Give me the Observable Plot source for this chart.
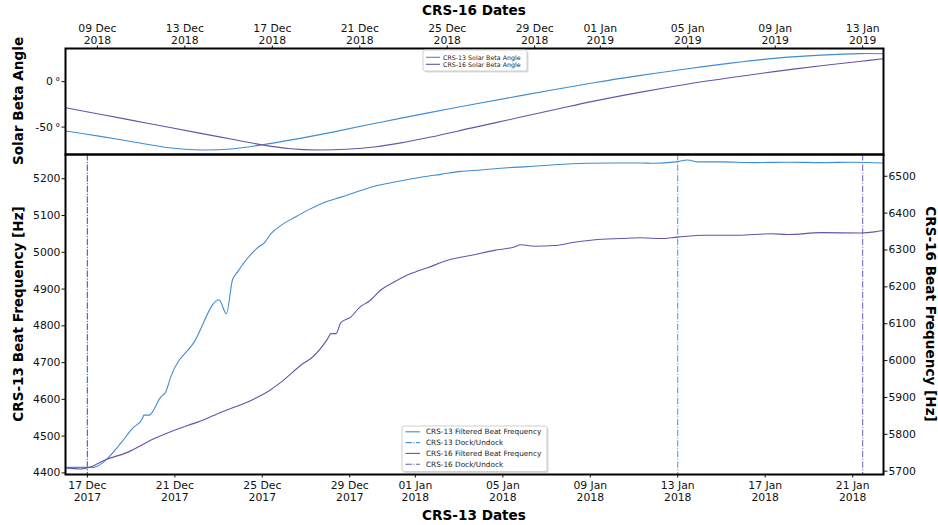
<!DOCTYPE html>
<html>
<head>
<meta charset="utf-8">
<script src="https://cdn.jsdelivr.net/npm/d3@7"></script>
<script src="https://cdn.jsdelivr.net/npm/@observablehq/plot@0.6"></script>
<style>
  html, body { margin: 0; padding: 0; background: #fff; }
  #chart { position: relative; width: 938px; height: 525px; font-family: "DejaVu Sans", sans-serif; }
  #chart svg { position: absolute; left: 0; top: 0; overflow: visible; }
</style>
</head>
<body>
<div id="chart"></div>
<script>
// ---- time windows shown by the two stacked panels (UTC) ----
const crs13Window = ["2017-12-16T00:00", "2018-01-22T09:50"];
const crs16Window = ["2018-12-07T13:00", "2019-01-13T22:50"];

// ---- tick dates ----
const crs13Ticks = ["2017-12-17", "2017-12-21", "2017-12-25", "2017-12-29", "2018-01-01",
                    "2018-01-05", "2018-01-09", "2018-01-13", "2018-01-17", "2018-01-21"];
const crs16Ticks = ["2018-12-09", "2018-12-13", "2018-12-17", "2018-12-21", "2018-12-25",
                    "2018-12-29", "2019-01-01", "2019-01-05", "2019-01-09", "2019-01-13"];
const betaTicks = [0, -50];
const crs13HzTicks = [4400, 4500, 4600, 4700, 4800, 4900, 5000, 5100, 5200];
const crs16HzTicks = [5700, 5800, 5900, 6000, 6100, 6200, 6300, 6400, 6500];

// ---- axis ranges ----
const betaDomain = [-80.2, 36.5];
const crs13HzDomain = [4395.6, 5266];
const crs16HzDomain = [5691, 6559];

// ---- solar beta angle [deg] ----
const crs13Beta = [
  ["2017-12-16T00:15", -54.4], ["2017-12-17T12:30", -60.0], ["2017-12-19T03:00", -66.4],
  ["2017-12-20T17:15", -72.8], ["2017-12-22T04:20", -75.2], ["2017-12-23T13:25", -74.1],
  ["2017-12-24T22:20", -69.8], ["2017-12-26T12:45", -63.3], ["2017-12-28T06:30", -55.3],
  ["2017-12-30T10:00", -44.6], ["2018-01-01T17:00", -33.8], ["2018-01-03T13:00", -25.4],
  ["2018-01-05T19:40", -15.4], ["2018-01-09T03:50", -1.2], ["2018-01-11T07:30", 6.9],
  ["2018-01-13T11:00", 14.2], ["2018-01-15T10:20", 20.4], ["2018-01-17T09:40", 25.6],
  ["2018-01-19T13:00", 29.2], ["2018-01-21T09:00", 30.9], ["2018-01-22T09:50", 30.7]
];
const crs16Beta = [
  ["2018-12-07T13:00", -28.8], ["2018-12-09T01:30", -35.7], ["2018-12-10T15:50", -42.9],
  ["2018-12-12T06:20", -50.2], ["2018-12-13T17:30", -56.9], ["2018-12-15T02:30", -63.1],
  ["2018-12-16T11:15", -69.3], ["2018-12-17T20:10", -73.8], ["2018-12-19T01:55", -75.2],
  ["2018-12-20T08:40", -74.4], ["2018-12-21T17:45", -71.6], ["2018-12-22T21:10", -67.4],
  ["2018-12-24T06:00", -61.0], ["2018-12-26T02:00", -51.2], ["2018-12-28T09:00", -39.0],
  ["2018-12-30T04:50", -29.2], ["2018-12-31T17:00", -21.4], ["2019-01-02T20:40", -11.5],
  ["2019-01-05T00:30", -2.6], ["2019-01-06T23:45", 4.5], ["2019-01-08T22:50", 11.0],
  ["2019-01-11T02:25", 17.5], ["2019-01-12T22:20", 22.4], ["2019-01-13T22:50", 25.3]
];

// ---- filtered beat frequency [Hz] ----
const crs13Beat = [
  ["2017-12-16T00:00", 4415], ["2017-12-17T00:00", 4415], ["2017-12-17T07:00", 4415],
  ["2017-12-17T18:00", 4430], ["2017-12-18T12:30", 4480], ["2017-12-19T01:30", 4521],
  ["2017-12-19T12:30", 4548], ["2017-12-19T14:00", 4557], ["2017-12-19T19:40", 4557],
  ["2017-12-20T08:30", 4606], ["2017-12-20T14:00", 4620], ["2017-12-20T19:30", 4661],
  ["2017-12-21T21:00", 4755], ["2017-12-23T00:30", 4871], ["2017-12-23T08:40", 4833],
  ["2017-12-23T15:10", 4924], ["2017-12-23T20:40", 4946], ["2017-12-24T22:20", 5019],
  ["2017-12-25T02:00", 5025], ["2017-12-25T09:20", 5050], ["2017-12-25T22:10", 5076],
  ["2017-12-26T10:50", 5094], ["2017-12-27T01:30", 5114], ["2017-12-27T23:30", 5139],
  ["2017-12-28T14:10", 5150], ["2017-12-29T12:00", 5168], ["2017-12-29T23:00", 5177],
  ["2017-12-30T21:00", 5189], ["2018-01-01T06:00", 5204], ["2018-01-02T04:00", 5212],
  ["2018-01-03T02:00", 5220], ["2018-01-04T00:00", 5224], ["2018-01-05T05:00", 5230],
  ["2018-01-06T03:00", 5233], ["2018-01-07T08:30", 5238], ["2018-01-08T21:00", 5242],
  ["2018-01-10T02:00", 5243], ["2018-01-11T07:30", 5243], ["2018-01-11T22:00", 5242],
  ["2018-01-12T22:00", 5246], ["2018-01-13T11:00", 5251], ["2018-01-13T22:00", 5246],
  ["2018-01-14T23:00", 5246], ["2018-01-16T11:30", 5244], ["2018-01-18T00:30", 5245],
  ["2018-01-19T13:00", 5244], ["2018-01-21T01:00", 5245], ["2018-01-22T09:50", 5243]
];
const crs16Beat = [
  ["2018-12-07T13:00", 5709], ["2018-12-08T06:00", 5706], ["2018-12-08T13:00", 5709],
  ["2018-12-08T20:00", 5715], ["2018-12-09T07:00", 5729], ["2018-12-10T09:00", 5751],
  ["2018-12-11T14:00", 5788], ["2018-12-13T03:00", 5824], ["2018-12-13T17:30", 5836],
  ["2018-12-14T12:00", 5856], ["2018-12-16T04:00", 5896], ["2018-12-16T22:20", 5921],
  ["2018-12-17T09:20", 5941], ["2018-12-18T11:00", 5994], ["2018-12-18T18:00", 6005],
  ["2018-12-19T12:40", 6059], ["2018-12-19T16:20", 6073], ["2018-12-19T22:00", 6073],
  ["2018-12-20T03:00", 6102], ["2018-12-20T14:00", 6118], ["2018-12-21T01:00", 6147],
  ["2018-12-21T10:20", 6161], ["2018-12-21T23:20", 6192], ["2018-12-22T13:40", 6213],
  ["2018-12-23T08:10", 6236], ["2018-12-24T02:30", 6252], ["2018-12-25T00:30", 6272],
  ["2018-12-26T05:40", 6287], ["2018-12-27T03:40", 6299], ["2018-12-28T01:40", 6308],
  ["2018-12-28T09:00", 6314], ["2018-12-28T23:40", 6310], ["2018-12-29T21:40", 6312],
  ["2018-12-30T19:30", 6321], ["2019-01-01T00:45", 6329], ["2019-01-01T22:50", 6331],
  ["2019-01-02T21:00", 6333], ["2019-01-03T19:00", 6331], ["2019-01-04T13:00", 6335],
  ["2019-01-05T18:00", 6340], ["2019-01-07T07:00", 6340], ["2019-01-08T19:30", 6344],
  ["2019-01-09T14:00", 6342], ["2019-01-11T02:30", 6347], ["2019-01-12T22:00", 6346],
  ["2019-01-13T13:00", 6349], ["2019-01-13T22:50", 6353]
];

// ---- docking / undocking times ----
const crs13Dock = ["2017-12-17T00:00", "2018-01-13T00:00"];
const crs16Dock = ["2018-12-08T13:00", "2019-01-13T00:00"];

// ---- legend entries ----
const betaLegend = [
  {label: "CRS-13 Solar Beta Angle", key: "crs13"},
  {label: "CRS-16 Solar Beta Angle", key: "crs16"}
];
const beatLegend = [
  {label: "CRS-13 Filtered Beat Frequency", key: "crs13"},
  {label: "CRS-13 Dock/Undock", key: "crs13Dock"},
  {label: "CRS-16 Filtered Beat Frequency", key: "crs16"},
  {label: "CRS-16 Dock/Undock", key: "crs16Dock"}
];

// ---- styling ----
const palette = {crs13: "#3d8ed3", crs16: "#6a52a8", crs13Dock: "#3a9ae0", crs16Dock: "#6a5cc0"};
const dashDot = "6.4,1.6,1,1.6";
const strokeStyle = {crs13: null, crs16: null, crs13Dock: dashDot, crs16Dock: dashDot};
const font = "DejaVu Sans";

const parse = s => new Date(s + (s.length === 10 ? "T00:00Z" : "Z"));
const shift = parse(crs16Window[0]) - parse(crs13Window[0]);  // CRS-16 time = CRS-13 time + shift
const toCrs16Time = s => new Date(+parse(s) + shift);
const toCrs13Time = s => new Date(+parse(s) - shift);
const hzToLeft = d3.scaleLinear().domain(crs16HzDomain).range(crs13HzDomain);

const W = 938, ML = 65, MR = 55;
const dateFmt = d3.utcFormat("%d %b\n%Y");
const baseStyle = {fontFamily: font, fontSize: "10.8px", color: "#111", background: "none", overflow: "visible"};

// ---- bottom panel: beat frequencies on CRS-13 time ----
const beatPanel = Plot.plot({
  width: W, height: 525,
  marginTop: 154, marginBottom: 51, marginLeft: ML, marginRight: MR,
  style: baseStyle,
  x: {type: "utc", domain: crs13Window.map(parse)},
  y: {domain: crs13HzDomain},
  marks: [
    Plot.ruleX(crs13Dock, {x: parse, stroke: palette.crs13Dock, strokeWidth: 1, strokeDasharray: dashDot}),
    Plot.ruleX(crs16Dock, {x: toCrs13Time, stroke: palette.crs16Dock, strokeWidth: 1, strokeDasharray: dashDot}),
    Plot.line(crs13Beat, {x: d => parse(d[0]), y: d => d[1], stroke: palette.crs13, strokeWidth: 1.1, curve: "monotone-x", clip: true}),
    Plot.line(crs16Beat, {x: d => toCrs13Time(d[0]), y: d => hzToLeft(d[1]), stroke: palette.crs16, strokeWidth: 1.1, curve: "monotone-x", clip: true}),
    Plot.axisX({anchor: "bottom", ticks: crs13Ticks.map(parse), tickFormat: dateFmt, tickSize: 3.5, tickPadding: 2.5, lineHeight: 1.1, label: null}),
    Plot.axisY({anchor: "left", ticks: crs13HzTicks, tickFormat: d => String(d), tickSize: 3.5, tickPadding: 1.5, label: null}),
    Plot.axisY({anchor: "right", ticks: crs16HzTicks.map(v => hzToLeft(v)), tickFormat: v => String(Math.round(hzToLeft.invert(v))), tickSize: 3.5, tickPadding: 1.5, label: null}),
    Plot.frame({stroke: "#000", strokeWidth: 2})
  ]
});

// ---- top panel: solar beta angle on CRS-16 time ----
const betaPanel = Plot.plot({
  width: W, height: 155,
  marginTop: 48, marginBottom: 1, marginLeft: ML, marginRight: MR,
  style: baseStyle,
  x: {type: "utc", domain: crs16Window.map(parse)},
  y: {domain: betaDomain},
  marks: [
    Plot.line(crs13Beta, {x: d => toCrs16Time(d[0]), y: d => d[1], stroke: palette.crs13, strokeWidth: 1.1, curve: "catmull-rom", clip: true}),
    Plot.line(crs16Beta, {x: d => parse(d[0]), y: d => d[1], stroke: palette.crs16, strokeWidth: 1.1, curve: "catmull-rom", clip: true}),
    Plot.axisX({anchor: "top", ticks: crs16Ticks.map(parse), tickFormat: dateFmt, tickSize: 3.5, tickPadding: 1, lineHeight: 1.12, label: null}),
    Plot.axisY({anchor: "left", ticks: betaTicks, tickFormat: d => `${d}\u2009°`, tickSize: 3.5, tickPadding: 1.5, label: null}),
    Plot.frame({stroke: "#000", strokeWidth: 2})
  ]
});

const chart = document.getElementById("chart");
chart.appendChild(beatPanel);
chart.appendChild(betaPanel);

// ---- titles and axis labels ----
function label(svg, text, x, y, rotate) {
  d3.select(svg).append("text")
    .attr("transform", `translate(${x},${y}) rotate(${rotate})`)
    .attr("text-anchor", "middle")
    .attr("font-family", font).attr("font-weight", "bold").attr("font-size", 13.6)
    .attr("fill", "#000")
    .text(text);
}
label(betaPanel, "CRS-16 Dates", 474, 15, 0);
label(betaPanel, "Solar Beta Angle", 22.5, 101, -90);
label(beatPanel, "CRS-13 Dates", 474, 519.5, 0);
label(beatPanel, "CRS-13 Beat Frequency [Hz]", 22.5, 314, -90);
label(beatPanel, "CRS-16 Beat Frequency [Hz]", 926, 314, 90);

// ---- legends ----
function legend(svg, items, box) {
  const g = d3.select(svg).append("g")
    .attr("font-family", font).attr("font-size", box.fontSize).attr("text-anchor", "start");
  g.append("rect").attr("x", box.x + 1.5).attr("y", box.y + 1.5).attr("width", box.w).attr("height", box.h)
    .attr("rx", 2).attr("fill", "#000").attr("fill-opacity", 0.15);
  g.append("rect").attr("x", box.x).attr("y", box.y).attr("width", box.w).attr("height", box.h)
    .attr("rx", 2).attr("fill", "#fff").attr("stroke", "#cfcfcf").attr("stroke-width", 1);
  items.forEach((it, i) => {
    const y = box.y + box.first + i * box.step;
    g.append("line").attr("x1", box.x + box.line0).attr("x2", box.x + box.line1)
      .attr("y1", y).attr("y2", y)
      .attr("stroke", palette[it.key]).attr("stroke-width", 1.1)
      .attr("stroke-dasharray", strokeStyle[it.key]);
    g.append("text").attr("x", box.x + box.text).attr("y", y).attr("dy", "0.35em")
      .attr("text-anchor", "start").attr("fill", "#222").text(it.label);
  });
}
legend(betaPanel, betaLegend, {x: 423, y: 50, w: 104, h: 21, first: 7.3, step: 7, line0: 3, line1: 17, text: 20, fontSize: 6.3});
legend(beatPanel, beatLegend, {x: 402, y: 426, w: 145, h: 45.5, first: 5.8, step: 10.8, line0: 3.5, line1: 18, text: 24, fontSize: 7.3});
</script>
</body>
</html>
